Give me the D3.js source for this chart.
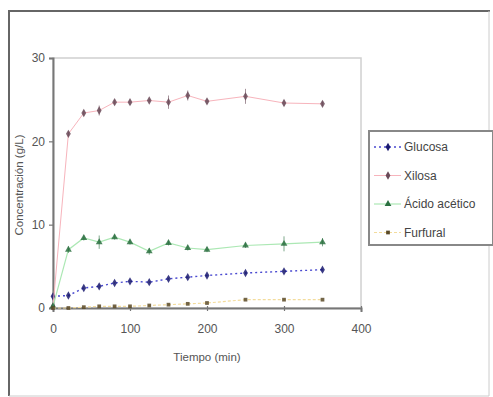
<!DOCTYPE html>
<html><head><meta charset="utf-8">
<script src="https://cdn.jsdelivr.net/npm/d3@7/dist/d3.min.js"></script>
<style>
html,body{margin:0;padding:0;background:#fff;}
text{font-family:"Liberation Sans Narrow","Liberation Sans",Arial,sans-serif;fill:#555;}
</style></head>
<body>
<svg id="c" width="493" height="397"></svg>
<script>
const tiempo = [0, 20, 40, 60, 80, 100, 125, 150, 175, 200, 250, 300, 350];
const glucosa = [1.4, 1.5, 2.4, 2.6, 3.0, 3.2, 3.1, 3.5, 3.7, 3.9, 4.2, 4.4, 4.6];
const xilosa = [0.2, 20.9, 23.4, 23.7, 24.7, 24.7, 24.9, 24.7, 25.5, 24.8, 25.4, 24.6, 24.5];
const acetico = [0.2, 7.0, 8.4, 7.9, 8.5, 7.9, 6.8, 7.8, 7.2, 7.0, 7.5, 7.7, 7.9];
const furfural = [0.0, 0.0, 0.1, 0.2, 0.2, 0.2, 0.3, 0.4, 0.5, 0.6, 1.0, 1.0, 1.0];
const errGlucosa = [0.1, 0.1, 0.1, 0.2, 0.1, 0.1, 0.1, 0.1, 0.1, 0.1, 0.1, 0.1, 0.1];
const errXilosa = [0.1, 0.3, 0.3, 0.6, 0.3, 0.3, 0.2, 0.8, 0.6, 0.3, 0.9, 0.3, 0.3];
const errAcetico = [0.1, 0.4, 0.3, 0.8, 0.3, 0.3, 0.4, 0.3, 0.3, 0.3, 0.3, 0.9, 0.5];
const errFurfural = [0, 0, 0.05, 0.05, 0.05, 0.05, 0.05, 0.05, 0.05, 0.05, 0.05, 0.05, 0.05];
const xTicks = [0, 100, 200, 300, 400];
const yTicks = [0, 10, 20, 30];
const seriesNames = ["Glucosa", "Xilosa", "Ácido acético", "Furfural"];

const series = [
  {name: seriesNames[0], vals: glucosa, err: errGlucosa, line: "#4a4ad0", mark: "#1a1a70", dash: "2,3", shape: d3.symbolDiamond, w: 1.4},
  {name: seriesNames[1], vals: xilosa, err: errXilosa, line: "#f7b4bc", mark: "#6a4a58", dash: null, shape: d3.symbolDiamond, w: 1},
  {name: seriesNames[2], vals: acetico, err: errAcetico, line: "#ace8b4", mark: "#2a7040", dash: null, shape: d3.symbolTriangle, w: 1.2},
  {name: seriesNames[3], vals: furfural, err: errFurfural, line: "#f3dc9c", mark: "#5a4a28", dash: "3,2", shape: d3.symbolSquare, w: 1.2}
];

const svg = d3.select("#c");
// outer frame
svg.append("line").attr("x1",9).attr("y1",10).attr("x2",9).attr("y2",396).attr("stroke","#666").attr("stroke-width",2);
svg.append("line").attr("x1",8).attr("y1",11).attr("x2",490).attr("y2",11).attr("stroke","#666").attr("stroke-width",2);
svg.append("line").attr("x1",489).attr("y1",11).attr("x2",489).attr("y2",396).attr("stroke","#ccc").attr("stroke-width",1);
svg.append("line").attr("x1",9).attr("y1",396).attr("x2",489).attr("y2",396).attr("stroke","#ccc").attr("stroke-width",1);

const L = 53, R = 361, T = 58, B = 308;
const x = d3.scaleLinear().domain([0, 400]).range([L, R]);
const y = d3.scaleLinear().domain([0, 30]).range([B, T]);

// plot area border
svg.append("rect").attr("x",L).attr("y",T).attr("width",R-L).attr("height",B-T)
  .attr("fill","none").attr("stroke","#d0d0d0").attr("stroke-width",1.5);

const gx = svg.append("g").attr("transform",`translate(0,${B})`)
  .call(d3.axisBottom(x).tickValues(xTicks).tickSize(4).tickPadding(12).tickFormat(d3.format("d")));
const gy = svg.append("g").attr("transform",`translate(${L},0)`)
  .call(d3.axisLeft(y).tickValues(yTicks).tickSize(4).tickPadding(4).tickFormat(d3.format("d")));
[gx, gy].forEach(g => {
  g.select(".domain").attr("stroke","#777").attr("stroke-width",2);
  g.selectAll(".tick line").attr("stroke","#777").attr("stroke-width",1.2);
  g.selectAll(".tick text").style("font-size","12px").style("fill","#555");
});
gx.selectAll(".tick line").attr("y1",-2).attr("y2",3);

// series
series.forEach(s => {
  const pts = tiempo.map((t,i) => ({t, v: s.vals[i], e: s.err[i]}));
  svg.append("path").datum(pts)
    .attr("fill","none").attr("stroke",s.line).attr("stroke-width",s.w)
    .attr("stroke-dasharray",s.dash)
    .attr("d", d3.line().x(d=>x(d.t)).y(d=>y(d.v)));
  const g = svg.append("g");
  g.selectAll("line.err").data(pts.filter(d=>d.e>0.05)).join("line")
    .attr("x1",d=>x(d.t)).attr("x2",d=>x(d.t))
    .attr("y1",d=>y(d.v+d.e)).attr("y2",d=>y(d.v-d.e))
    .attr("stroke",s.mark).attr("stroke-width",1).attr("opacity",0.6);
  g.selectAll("path.m").data(pts).join("path")
    .attr("transform",d=>`translate(${x(d.t)},${y(d.v)})`)
    .attr("d", d3.symbol().type(s.shape).size(s.shape===d3.symbolSquare?14:20))
    .attr("fill",s.mark).attr("opacity",0.85);
});

// axis titles
svg.append("text").attr("x", 207).attr("y", 361).attr("text-anchor","middle")
  .style("font-size","11.5px").text("Tiempo (min)");
svg.append("text").attr("transform","translate(23,185) rotate(-90)").attr("text-anchor","middle")
  .style("font-size","11.5px").text("Concentración (g/L)");

// legend
const lg = svg.append("g");
lg.append("rect").attr("x",369).attr("y",131).attr("width",124).attr("height",114)
  .attr("fill","#fff").attr("stroke","#888").attr("stroke-width",2);
series.forEach((s,i) => {
  const yy = 147 + i*28.5;
  lg.append("line").attr("x1",374).attr("x2",401).attr("y1",yy).attr("y2",yy)
    .attr("stroke",s.line).attr("stroke-width",s.w).attr("stroke-dasharray",s.dash);
  lg.append("path").attr("transform",`translate(388,${yy})`)
    .attr("d", d3.symbol().type(s.shape).size(s.shape===d3.symbolSquare?14:20)).attr("fill",s.mark);
  lg.append("text").attr("x",404).attr("y",yy+4).style("font-size","12px").style("fill","#444").text(s.name);
});
</script>
</body></html>
